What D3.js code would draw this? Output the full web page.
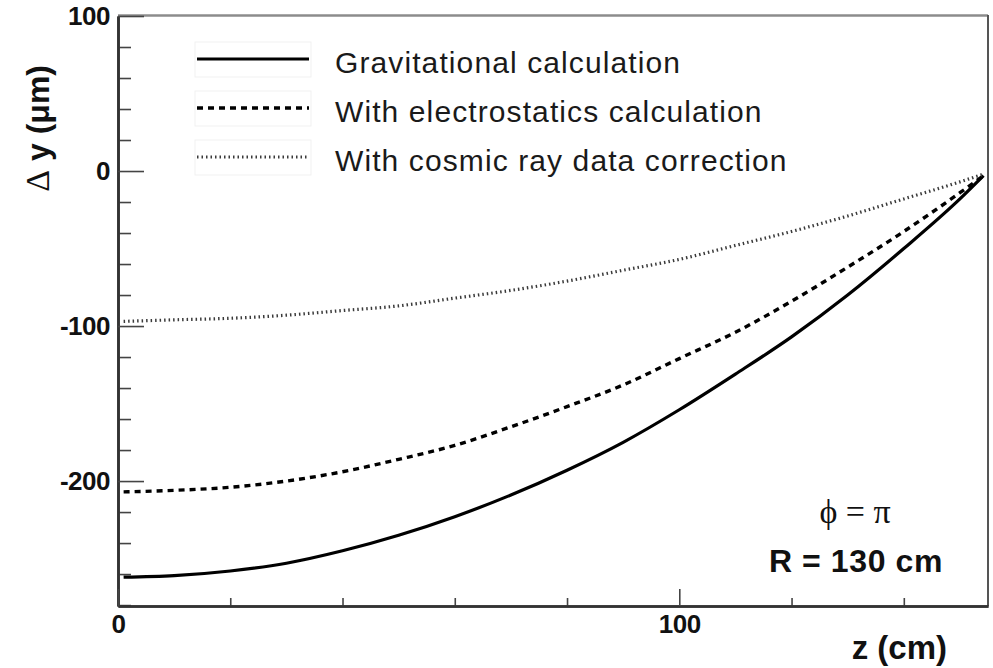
<!DOCTYPE html>
<html>
<head>
<meta charset="utf-8">
<script src="https://cdn.jsdelivr.net/npm/d3@7"></script>
<style>
  html, body { margin: 0; padding: 0; background: #fff; }
  svg { display: block; }
  .tick text { font-family: "Liberation Sans", Arial, sans-serif; font-weight: bold; font-size: 26px; fill: #111; letter-spacing: -0.5px; }
</style>
</head>
<body>
<svg id="chart" width="993" height="668"></svg>
<script>
// z positions along the wire (cm)
const zValues = [1, 10, 20, 30, 40, 50, 60, 70, 80, 90, 100, 110, 120, 130, 140, 150, 154.2];
// sag Δy (µm) for each calculation
const gravitational = [-262, -261, -258, -253, -245, -235, -223, -209, -193, -175, -154, -131, -107, -80, -50, -18, -3];
const electrostatics = [-207, -206, -204, -200, -194, -186, -177, -165, -152, -138, -121, -104, -84, -62, -39, -14, -3];
const cosmicRay = [-97, -96, -95, -93, -90, -87, -82, -77, -71, -64, -57, -48, -39, -29, -18, -7, -2];

const seriesNames = ["Gravitational calculation", "With electrostatics calculation", "With cosmic ray data correction"];
const xMajorTicks = [0, 100];
const xMinorTicks = [20, 40, 60, 80, 120, 140];
const yMajorTicks = [100, 0, -100, -200];
const yMinorTicks = [80, 60, 40, 20, -20, -40, -60, -80, -120, -140, -160, -180, -220, -240, -260, -280];

const svg = d3.select("#chart");
const plotLeft = 118, plotRight = 988, plotTop = 16, plotBottom = 606;

const x = d3.scaleLinear().domain([0, 155]).range([plotLeft, plotRight]);
const y = d3.scaleLinear().domain([-280.6, 100]).range([plotBottom, plotTop]);

// plain hyphen for negative labels
const fmt = d => String(d);

// frame: top and right borders
svg.append("line").attr("x1", plotLeft).attr("x2", plotRight).attr("y1", plotTop - 0.5).attr("y2", plotTop - 0.5)
  .attr("stroke", "#8c8c8c").attr("stroke-width", 2.5);
svg.append("line").attr("x1", plotRight).attr("x2", plotRight).attr("y1", plotTop - 1).attr("y2", plotBottom)
  .attr("stroke", "#555").attr("stroke-width", 2);

// y axis (ticks pointing into the plot)
const yMinor = svg.append("g").attr("transform", `translate(${plotLeft},0)`)
  .call(d3.axisLeft(y).tickValues(yMinorTicks).tickSize(-13).tickSizeOuter(0).tickFormat(""));
const yMajor = svg.append("g").attr("transform", `translate(${plotLeft},0)`)
  .call(d3.axisLeft(y).tickValues(yMajorTicks).tickSize(-26).tickSizeOuter(0).tickPadding(8).tickFormat(fmt));

// x axis
const xMinor = svg.append("g").attr("transform", `translate(0,${plotBottom})`)
  .call(d3.axisBottom(x).tickValues(xMinorTicks).tickSize(-8).tickSizeOuter(0).tickFormat(""));
const xMajor = svg.append("g").attr("transform", `translate(0,${plotBottom})`)
  .call(d3.axisBottom(x).tickValues(xMajorTicks).tickSize(-17).tickSizeOuter(0).tickPadding(9).tickFormat(fmt));

[yMinor, yMajor, xMinor, xMajor].forEach(g => {
  g.selectAll(".tick line").attr("stroke", "#444").attr("stroke-width", 1.6);
  g.select(".domain").attr("stroke", "#333").attr("stroke-width", 2.6);
});

// curves
const styles = [
  { data: gravitational, width: 3.2, dash: null, color: "#000" },
  { data: electrostatics, width: 3.4, dash: "6,5", color: "#000" },
  { data: cosmicRay, width: 3.2, dash: "1.5,3", color: "#3a3a3a" }
];
const line = d3.line().x(d => x(d[0])).y(d => y(d[1])).curve(d3.curveMonotoneX);

styles.forEach(s => {
  svg.append("path")
    .datum(zValues.map((z, i) => [z, s.data[i]]))
    .attr("d", line)
    .attr("fill", "none")
    .attr("stroke", s.color)
    .attr("stroke-width", s.width)
    .attr("stroke-dasharray", s.dash);
});

// legend
const legendRows = [59, 108, 157];
seriesNames.forEach((name, i) => {
  const ly = legendRows[i];
  svg.append("rect").attr("x", 195).attr("y", ly - 17).attr("width", 116).attr("height", 35)
    .attr("fill", "none").attr("stroke", "#f1f1f1").attr("stroke-width", 1);
  svg.append("line").attr("x1", 197).attr("x2", 309).attr("y1", ly).attr("y2", ly)
    .attr("stroke", styles[i].color)
    .attr("stroke-width", styles[i].width)
    .attr("stroke-dasharray", styles[i].dash);
  svg.append("text").attr("x", 335).attr("y", ly + 14)
    .attr("font-family", "'Liberation Sans', Arial, sans-serif")
    .attr("font-size", 30).attr("letter-spacing", 1.1).attr("fill", "#1a1a1a")
    .text(name);
});

// axis titles
const yTitle = svg.append("text")
  .attr("transform", `translate(49,65) rotate(-90)`)
  .attr("text-anchor", "end")
  .attr("font-family", "'Liberation Sans', Arial, sans-serif")
  .attr("font-weight", "bold").attr("font-size", 32).attr("fill", "#111");
yTitle.append("tspan")
  .attr("font-family", "'Liberation Serif', 'DejaVu Serif', serif")
  .attr("font-weight", "normal").attr("font-size", 34)
  .text("Δ");
yTitle.append("tspan").text(" y (μm)");

svg.append("text")
  .attr("x", 947).attr("y", 659)
  .attr("text-anchor", "end")
  .attr("font-family", "'Liberation Sans', Arial, sans-serif")
  .attr("font-weight", "bold").attr("font-size", 33).attr("fill", "#111")
  .text("z (cm)");

// annotations
svg.append("text")
  .attr("x", 855).attr("y", 523)
  .attr("text-anchor", "middle")
  .attr("font-family", "'Liberation Serif', 'DejaVu Serif', serif")
  .attr("font-size", 34).attr("fill", "#111")
  .text("ϕ = π");

svg.append("text")
  .attr("x", 943).attr("y", 572)
  .attr("text-anchor", "end")
  .attr("font-family", "'Liberation Sans', Arial, sans-serif")
  .attr("font-weight", "bold").attr("font-size", 32).attr("fill", "#111")
  .attr("letter-spacing", 0.6)
  .text("R = 130 cm");
</script>
</body>
</html>
